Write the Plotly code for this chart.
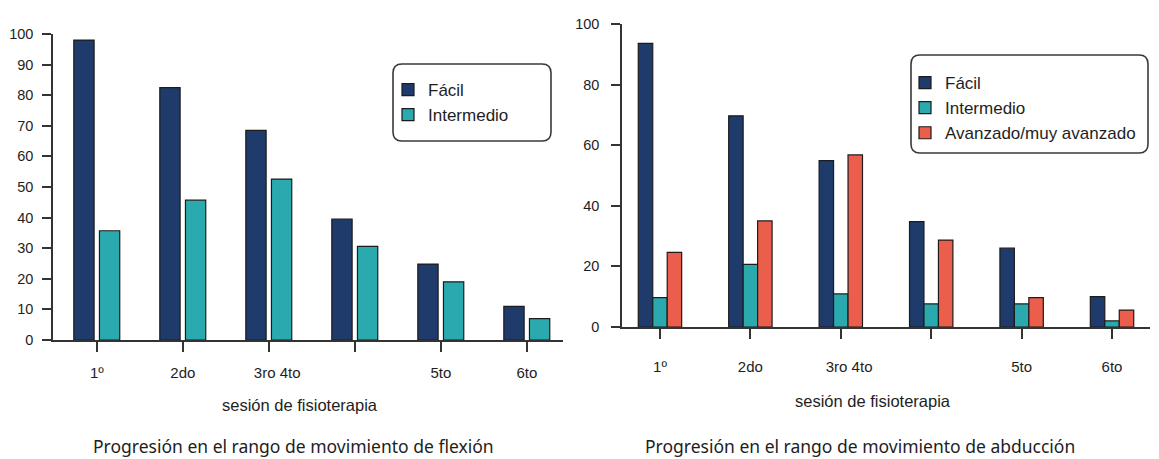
import plotly.graph_objects as go

# ---------------- data ----------------
sesiones = ["1º", "2do", "\u00a0\u00a0\u00a0\u00a03ro 4to", "", "5to", "6to"]
posiciones = [0, 1, 2, 3, 4, 5]

flex_facil = [98, 82.5, 68.5, 39.5, 24.8, 11]
flex_intermedio = [35.7, 45.7, 52.6, 30.6, 19, 7]

abd_facil = [93.6, 69.7, 54.9, 34.8, 26, 10]
abd_intermedio = [9.7, 20.7, 10.9, 7.6, 7.6, 2]
abd_avanzado = [24.6, 35, 56.8, 28.7, 9.7, 5.6]

flex_ticks = [0, 10, 20, 30, 40, 50, 60, 70, 80, 90, 100]
abd_ticks = [0, 20, 40, 60, 80, 100]

titulo_eje = "sesión de fisioterapia"
titulo_flex = "Progresión en el rango de movimiento de flexión"
titulo_abd = "Progresión en el rango de movimiento de abducción"

# ---------------- styling ----------------
# the page body has an 8px margin, so the figure is drawn 8px smaller and
# all screen positions below are converted with that offset
OFF = 8
FW, FH = 1159 - OFF, 459 - OFF
C_FACIL = "#1e3b6c"
C_INTER = "#2aa9ae"
C_AVANZ = "#ec5e4c"
EDGE = "#1c1c1c"
AX = "#333333"
TXT = "#1e1e1e"
SANS = "Liberation Sans, Arial, sans-serif"
CAPTION = "Noto Sans, Open Sans, sans-serif"


def px_x(p):
    return (p - OFF) / FW


def px_y(p):
    return 1 - (p - OFF) / FH


fig = go.Figure()

# left chart (flexión)
for name, vals, col, off in [
    ("Fácil", flex_facil, C_FACIL, -0.268),
    ("Intermedio", flex_intermedio, C_INTER, 0.03),
]:
    fig.add_trace(go.Bar(
        x=posiciones, y=vals, name=name, width=0.236, offset=off,
        marker=dict(color=col, line=dict(color=EDGE, width=1.2)),
        xaxis="x", yaxis="y", legend="legend",
    ))

# right chart (abducción)
for name, vals, col, off in [
    ("Fácil", abd_facil, C_FACIL, -0.24),
    ("Intermedio", abd_intermedio, C_INTER, -0.08),
    ("Avanzado/muy avanzado", abd_avanzado, C_AVANZ, 0.08),
]:
    fig.add_trace(go.Bar(
        x=posiciones, y=vals, name=name, width=0.16, offset=off,
        marker=dict(color=col, line=dict(color=EDGE, width=1.2)),
        xaxis="x2", yaxis="y2", legend="legend2",
    ))

common_x = dict(
    tickmode="array", tickvals=posiciones, ticktext=sesiones,
    ticks="outside", ticklen=10, tickwidth=1.5, tickcolor=AX,
    showline=True, linecolor=AX, linewidth=1.5,
    showgrid=False, zeroline=False,
    tickfont=dict(family=SANS, size=15, color=TXT),
    fixedrange=True, automargin=False,
)
common_y = dict(
    tickmode="array",
    ticks="outside", ticklen=9, tickwidth=1.5, tickcolor=AX,
    showline=True, linecolor=AX, linewidth=1.5,
    showgrid=False, zeroline=False,
    tickfont=dict(family=SANS, size=14.5, color=TXT),
    fixedrange=True, automargin=False,
)

fig.update_layout(
    width=FW, height=FH, autosize=False,
    margin=dict(l=0, r=0, t=0, b=0, pad=0),
    paper_bgcolor="white", plot_bgcolor="white",
    barmode="overlay",
    xaxis=dict(common_x, domain=[px_x(53), px_x(563)], range=[-0.51, 5.42],
               anchor="y", ticklabelstandoff=8),
    yaxis=dict(common_y, domain=[px_y(340), px_y(34)], range=[0, 100],
               tickvals=flex_ticks, anchor="x", ticklabelstandoff=6),
    xaxis2=dict(common_x, domain=[px_x(622), px_x(1150)], range=[-0.42, 5.42],
                anchor="y2", ticklabelstandoff=15),
    yaxis2=dict(common_y, domain=[px_y(327), px_y(24)], range=[0, 100],
                tickvals=abd_ticks, anchor="x2", ticklabelstandoff=9),
    legend=dict(
        x=px_x(388), y=px_y(72), xanchor="left", yanchor="top",
        bgcolor="rgba(0,0,0,0)", borderwidth=0,
        font=dict(family=SANS, size=17, color=TXT),
        itemclick=False, itemdoubleclick=False,
    ),
    legend2=dict(
        x=px_x(905), y=px_y(65), xanchor="left", yanchor="top",
        bgcolor="rgba(0,0,0,0)", borderwidth=0,
        font=dict(family=SANS, size=17, color=TXT),
        itemclick=False, itemdoubleclick=False,
    ),
    showlegend=True,
)


def rounded_box(x0, y0, x1, y1, r=9):
    rx, ry = r / FW, r / FH
    X0, X1 = px_x(x0), px_x(x1)
    Y0, Y1 = px_y(y0), px_y(y1)  # Y0 top (higher), Y1 bottom
    return (
        f"M {X0 + rx},{Y0} L {X1 - rx},{Y0} Q {X1},{Y0} {X1},{Y0 - ry} "
        f"L {X1},{Y1 + ry} Q {X1},{Y1} {X1 - rx},{Y1} "
        f"L {X0 + rx},{Y1} Q {X0},{Y1} {X0},{Y1 + ry} "
        f"L {X0},{Y0 - ry} Q {X0},{Y0} {X0 + rx},{Y0} Z"
    )


for box in [(393, 64, 551, 141), (911, 55, 1148, 153)]:
    fig.add_shape(type="path", xref="paper", yref="paper",
                  path=rounded_box(*box), line=dict(color="#3a3a3a", width=1.6),
                  fillcolor="rgba(0,0,0,0)", layer="above")

annots = [
    (300, 405, titulo_eje, SANS, 16.5),
    (873, 401, titulo_eje, SANS, 16.5),
    (293, 446, titulo_flex, CAPTION, 17.5),
    (860, 446, titulo_abd, CAPTION, 17.5),
]
for xc, yc, t, fam, sz in annots:
    fig.add_annotation(x=px_x(xc), y=px_y(yc), xref="paper", yref="paper",
                       text=t, showarrow=False, xanchor="center", yanchor="middle",
                       borderpad=0,
                       font=dict(family=fam, size=sz, color=TXT))

fig.write_html("out.html")
